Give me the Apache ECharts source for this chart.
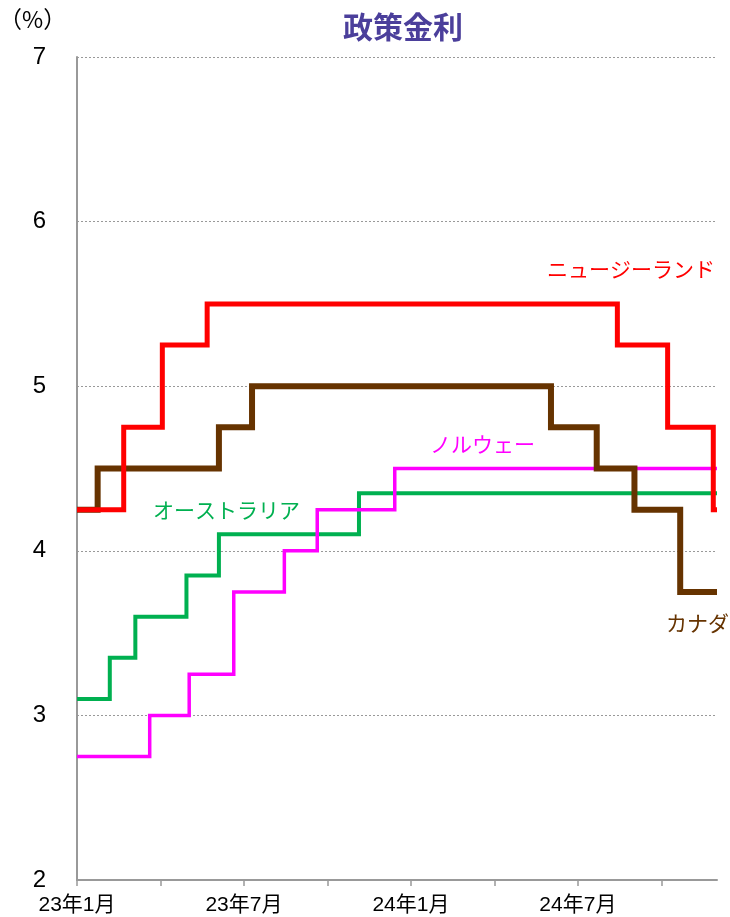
<!DOCTYPE html>
<html>
<head>
<meta charset="utf-8">
<script src="https://cdn.jsdelivr.net/npm/echarts@6/dist/echarts.min.js"></script>
<style>
  html, body { margin: 0; padding: 0; background: #fff; }
  #main { width: 730px; height: 917px; }
</style>
</head>
<body>
<div id="main"></div>
<script>
// 政策金利（%）: [変更日, 金利]
const nzRates = [
  ["2023-01-01", 4.25], ["2023-02-20", 4.75], ["2023-04-03", 5.25],
  ["2023-05-22", 5.5], ["2024-08-14", 5.25], ["2024-10-08", 4.75],
  ["2024-11-27", 4.25], ["2024-12-01", 4.25]
];
const canadaRates = [
  ["2023-01-01", 4.25], ["2023-01-24", 4.5], ["2023-06-04", 4.75],
  ["2023-07-10", 5.0], ["2024-06-02", 4.75], ["2024-07-22", 4.5],
  ["2024-09-02", 4.25], ["2024-10-22", 3.75], ["2024-12-01", 3.75]
];
const australiaRates = [
  ["2023-01-01", 3.1], ["2023-02-06", 3.35], ["2023-03-04", 3.6],
  ["2023-04-29", 3.85], ["2023-06-04", 4.1], ["2023-11-05", 4.35],
  ["2024-12-01", 4.35]
];
const norwayRates = [
  ["2023-01-01", 2.75], ["2023-03-20", 3.0], ["2023-05-02", 3.25],
  ["2023-06-20", 3.75], ["2023-08-15", 4.0], ["2023-09-20", 4.25],
  ["2023-12-14", 4.5], ["2024-12-01", 4.5]
];
// x軸の目盛（2023年1月からの月数）とラベル
const tickMonths = [0, 3, 6, 9, 12, 15, 18, 21];
const labelMonths = [0, 6, 12, 18];
const xLabels = { 0: "23年1月", 6: "23年7月", 12: "24年1月", 18: "24年7月" };

const font = "'Liberation Sans', Arial, 'Noto Sans CJK JP', sans-serif";
const jpFont = "'Noto Sans CJK JP', sans-serif";

// 日付 → 2023年1月1日からの月数（小数）
function toMonth(s) {
  const [y, m, d] = s.split("-").map(Number);
  const dim = new Date(y, m, 0).getDate();
  return (y - 2023) * 12 + (m - 1) + (d - 1) / dim;
}
function toPoints(rows) {
  return rows.map(r => [toMonth(r[0]), r[1]]);
}

const chart = echarts.init(document.getElementById("main"));

function stepSeries(name, rows, color, width) {
  return {
    name: name,
    type: "line",
    step: "end",
    data: toPoints(rows),
    showSymbol: false,
    lineStyle: { color: color, width: width, join: "miter" },
    itemStyle: { color: color },
    animation: false
  };
}

chart.setOption({
  backgroundColor: "#fff",
  title: {
    text: "政策金利",
    left: 398,
    top: 7,
    textAlign: "center",
    textStyle: { fontFamily: jpFont, fontSize: 30, fontWeight: "bold", color: "#4b3f9b" }
  },
  grid: { left: 77, right: 13, top: 57, bottom: 37 },
  xAxis: {
    type: "value",
    min: 0,
    max: 23,
    interval: 3,
    axisLine: { lineStyle: { color: "#999", width: 2 } },
    axisTick: {
      show: true,
      customValues: tickMonths,
      length: 6,
      lineStyle: { color: "#999", width: 1.5 }
    },
    axisLabel: {
      customValues: labelMonths,
      formatter: v => xLabels[Math.round(v)] || "",
      fontFamily: font,
      fontSize: 21,
      color: "#000",
      margin: 15
    },
    splitLine: { show: false }
  },
  yAxis: {
    type: "value",
    min: 2,
    max: 7,
    interval: 1,
    axisLine: { show: true, lineStyle: { color: "#999", width: 2 } },
    axisTick: { show: false },
    axisLabel: { fontFamily: font, fontSize: 24, color: "#000", margin: 31 },
    splitLine: { show: true, lineStyle: { color: "#999", type: [2, 2], width: 1 } }
  },
  graphic: [
    { type: "text", left: -1, top: 8, style: { text: "（%）", font: "23px " + jpFont, fill: "#000" } },
    { type: "text", left: 547, top: 259, style: { text: "ニュージーランド", font: "21px " + jpFont, fill: "#ff0000" } },
    { type: "text", left: 430, top: 434, style: { text: "ノルウェー", font: "21px " + jpFont, fill: "#ff00ff" } },
    { type: "text", left: 153, top: 500, style: { text: "オーストラリア", font: "21px " + jpFont, fill: "#00b050" } },
    { type: "text", left: 666, top: 613, style: { text: "カナダ", font: "21px " + jpFont, fill: "#663300" } }
  ],
  series: [
    stepSeries("オーストラリア", australiaRates, "#00b050", 4),
    stepSeries("ノルウェー", norwayRates, "#ff00ff", 3.5),
    stepSeries("カナダ", canadaRates, "#663300", 6),
    stepSeries("ニュージーランド", nzRates, "#ff0000", 5)
  ]
});
</script>
</body>
</html>
